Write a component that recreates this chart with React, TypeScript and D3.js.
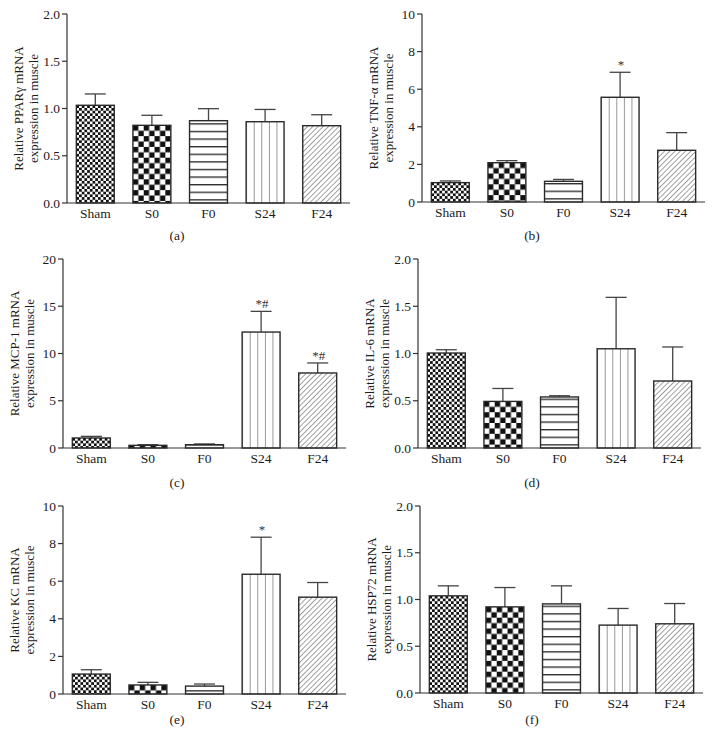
import React from "react";
import * as d3 from "d3";

// groups on the x axis
const categories = ["Sham", "S0", "F0", "S24", "F24"];

// panel (a) PPARγ
const ppargMean = [1.034, 0.822, 0.871, 0.86, 0.818];
const ppargErr = [0.12, 0.106, 0.127, 0.13, 0.116];
// panel (b) TNF-α
const tnfMean = [1.03, 2.09, 1.1, 5.57, 2.75];
const tnfErr = [0.09, 0.11, 0.1, 1.33, 0.94];
// panel (c) MCP-1
const mcpMean = [1.06, 0.28, 0.35, 12.27, 7.94];
const mcpErr = [0.17, 0.07, 0.08, 2.19, 1.06];
// panel (d) IL-6
const il6Mean = [1.005, 0.493, 0.54, 1.05, 0.709];
const il6Err = [0.035, 0.137, 0.013, 0.544, 0.36];
// panel (e) KC
const kcMean = [1.06, 0.48, 0.42, 6.37, 5.15];
const kcErr = [0.23, 0.14, 0.11, 1.97, 0.78];
// panel (f) HSP72
const hspMean = [1.039, 0.921, 0.953, 0.726, 0.74];
const hspErr = [0.107, 0.207, 0.193, 0.178, 0.217];

// significance marks
const tnfMarks = ["", "", "", "*", ""];
const mcpMarks = ["", "", "", "*#", "*#"];
const kcMarks = ["", "", "", "*", ""];
const noMarks = ["", "", "", "", ""];

// y ticks
const ticksUnit = [0, 0.5, 1, 1.5, 2];
const ticksTen = [0, 2, 4, 6, 8, 10];
const ticksTwenty = [0, 5, 10, 15, 20];

const FONT = "'Liberation Serif', 'Times New Roman', serif";
const INK = "#1c1c1c";

type PanelProps = {
	id: string;
	letter: string;
	title: string;
	mean: number[];
	err: number[];
	marks: string[];
	ticks: number[];
	fmt: string;
	axisX: number;
	top: number;
	base: number;
	letterX: number;
	letterY: number;
};

function Panel(p: PanelProps) {
	const y = d3
		.scaleLinear()
		.domain([p.ticks[0], p.ticks[p.ticks.length - 1]])
		.range([p.base, p.top]);
	const x = d3
		.scaleBand<string>()
		.domain(categories)
		.range([p.axisX, p.axisX + 283])
		.paddingInner(0.33)
		.paddingOuter(0.165);
	const f = d3.format(p.fmt);
	const bw = x.bandwidth();
	const midY = (p.top + p.base) / 2;

	return (
		<g>
			<defs>
				{categories.map((c, i) => {
					const bx = x(c)!;
					const by = y(p.mean[i]);
					const pid = `${p.id}-${i}`;
					if (i === 0)
						return (
							<pattern key={pid} id={pid} patternUnits="userSpaceOnUse" x={bx} y={by} width={5.4} height={5.4}>
								<rect width={5.4} height={5.4} fill="#fff" />
								<rect width={2.7} height={2.7} fill="#111" />
								<rect x={2.7} y={2.7} width={2.7} height={2.7} fill="#111" />
							</pattern>
						);
					if (i === 1)
						return (
							<pattern key={pid} id={pid} patternUnits="userSpaceOnUse" x={bx} y={by} width={10.8} height={10.8}>
								<rect width={10.8} height={10.8} fill="#fff" />
								<rect width={5.4} height={5.4} fill="#111" />
								<rect x={5.4} y={5.4} width={5.4} height={5.4} fill="#111" />
							</pattern>
						);
					if (i === 2)
						return (
							<pattern key={pid} id={pid} patternUnits="userSpaceOnUse" x={bx} y={p.base} width={10} height={7.6}>
								<rect width={10} height={7.6} fill="#fff" />
								<line x1={0} x2={10} y1={4.5} y2={4.5} stroke="#222" strokeWidth={1.3} />
							</pattern>
						);
					if (i === 3)
						return (
							<pattern key={pid} id={pid} patternUnits="userSpaceOnUse" x={bx} y={by} width={bw / 5} height={10}>
								<rect width={bw / 5} height={10} fill="#fff" />
								<line x1={0} x2={0} y1={0} y2={10} stroke="#444" strokeWidth={1.1} />
							</pattern>
						);
					return (
						<pattern key={pid} id={pid} patternUnits="userSpaceOnUse" x={bx} y={by} width={3.7} height={10} patternTransform="rotate(45)">
							<rect width={3.7} height={10} fill="#fff" />
							<line x1={0} x2={0} y1={0} y2={10} stroke="#444" strokeWidth={1} />
						</pattern>
					);
				})}
			</defs>

			{/* bars */}
			{categories.map((c, i) => {
				const bx = x(c)!;
				const by = y(p.mean[i]);
				const ey = y(p.mean[i] + p.err[i]);
				const cx = bx + bw / 2;
				return (
					<g key={c}>
						<line x1={cx} x2={cx} y1={by} y2={ey} stroke="#444" strokeWidth={1.3} />
						<line x1={cx - 10.5} x2={cx + 10.5} y1={ey} y2={ey} stroke="#444" strokeWidth={1.3} />
						<rect x={bx} y={by} width={bw} height={p.base - by} fill={`url(#${p.id}-${i})`} stroke="#2a2a2a" strokeWidth={1.4} />
						{p.marks[i] && (
							<text x={cx + 1} y={ey - 3} textAnchor="middle" fontSize={13} fill="#333" fontFamily={FONT}>
								{p.marks[i]}
							</text>
						)}
						<text x={cx} y={p.base + 15} textAnchor="middle" fontSize={13.5} fill={INK} fontFamily={FONT}>
							{c}
						</text>
					</g>
				);
			})}

			{/* axes */}
			<line x1={p.axisX} x2={p.axisX} y1={p.top} y2={p.base} stroke="#333" strokeWidth={1.2} />
			<line x1={p.axisX} x2={p.axisX + 283} y1={p.base} y2={p.base} stroke="#333" strokeWidth={1.2} />
			{p.ticks.map((t) => (
				<g key={t}>
					<line x1={p.axisX - 5} x2={p.axisX} y1={y(t)} y2={y(t)} stroke="#333" strokeWidth={1.2} />
					<text x={p.axisX - 7} y={y(t) + 4.5} textAnchor="end" fontSize={13.5} fill={INK} fontFamily={FONT}>
						{f(t)}
					</text>
				</g>
			))}

			{/* y title */}
			<g transform={`translate(${p.axisX - 49},${midY}) rotate(-90)`}>
				<text x={0} y={4.5} textAnchor="middle" fontSize={13} fill={INK} fontFamily={FONT}>
					{p.title}
				</text>
				<text x={0} y={19.5} textAnchor="middle" fontSize={13} fill={INK} fontFamily={FONT}>
					expression in muscle
				</text>
			</g>

			<text x={p.letterX} y={p.letterY + 4} textAnchor="middle" fontSize={13.5} fill={INK} fontFamily={FONT}>
				{p.letter}
			</text>
		</g>
	);
}

export default function App() {
	return (
		<svg width={712} height={755} style={{ position: "absolute", left: 0, top: 0, background: "#fff" }}>
			<Panel id="pa" letter="(a)" title="Relative PPARγ mRNA" mean={ppargMean} err={ppargErr} marks={noMarks} ticks={ticksUnit} fmt=".1f" axisX={67} top={14} base={203} letterX={177} letterY={236} />
			<Panel id="pb" letter="(b)" title="Relative TNF-α mRNA" mean={tnfMean} err={tnfErr} marks={tnfMarks} ticks={ticksTen} fmt="d" axisX={422} top={14} base={202} letterX={532} letterY={236} />
			<Panel id="pc" letter="(c)" title="Relative MCP-1 mRNA" mean={mcpMean} err={mcpErr} marks={mcpMarks} ticks={ticksTwenty} fmt="d" axisX={63} top={259} base={448} letterX={177} letterY={483} />
			<Panel id="pd" letter="(d)" title="Relative IL-6 mRNA" mean={il6Mean} err={il6Err} marks={noMarks} ticks={ticksUnit} fmt=".1f" axisX={418} top={259} base={448} letterX={532} letterY={483} />
			<Panel id="pe" letter="(e)" title="Relative KC mRNA" mean={kcMean} err={kcErr} marks={kcMarks} ticks={ticksTen} fmt="d" axisX={63} top={506} base={694} letterX={177} letterY={720} />
			<Panel id="pf" letter="(f)" title="Relative HSP72 mRNA" mean={hspMean} err={hspErr} marks={noMarks} ticks={ticksUnit} fmt=".1f" axisX={420} top={506} base={693} letterX={532} letterY={720} />
		</svg>
	);
}
